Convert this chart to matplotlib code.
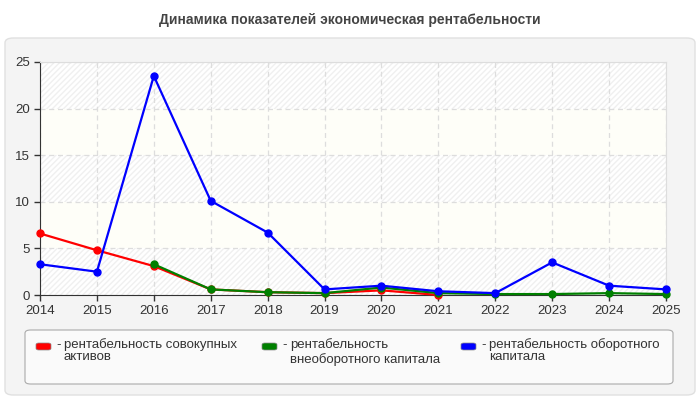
import matplotlib
matplotlib.use("Agg")
import matplotlib.pyplot as plt
from matplotlib.patches import FancyBboxPatch
import numpy as np

plt.rcParams['font.family'] = ['Liberation Sans', 'DejaVu Sans']

title = "Динамика показателей экономическая рентабельности"
years = [2014, 2015, 2016, 2017, 2018, 2019, 2020, 2021, 2022, 2023, 2024, 2025]
yticks = [0, 5, 10, 15, 20, 25]

red_years = [2014, 2015, 2016, 2017, 2018, 2019, 2020, 2021]
red_vals = [6.6, 4.8, 3.1, 0.6, 0.3, 0.2, 0.5, 0.0]

green_years = [2016, 2017, 2018, 2019, 2020, 2021, 2022, 2023, 2024, 2025]
green_vals = [3.3, 0.6, 0.3, 0.2, 0.8, 0.2, 0.1, 0.1, 0.2, 0.1]

blue_years = years
blue_vals = [3.3, 2.5, 23.5, 10.1, 6.7, 0.6, 1.0, 0.4, 0.2, 3.5, 1.0, 0.6]

labels = ["рентабельность совокупных\nактивов",
          "рентабельность\nвнеоборотного капитала",
          "рентабельность оборотного\nкапитала"]
line_spacing = [1.0, 1.25, 1.0]
colors = ["#ff0000", "#008000", "#0000ff"]

fig = plt.figure(figsize=(7, 4), dpi=100)
fig.patch.set_facecolor("#ffffff")

# outer panel
panel = FancyBboxPatch((5/700, 5/400), 690/700, 357/400,
                       boxstyle="round,pad=0,rounding_size=0.012",
                       transform=fig.transFigure, facecolor="#f4f4f4",
                       edgecolor="#e0e0e0", linewidth=1, zorder=-2)
fig.patches.append(panel)

fig.text(0.5, 1 - 20/400, title, ha="center", va="center",
         fontsize=10, fontweight="bold", color="#444444")

ax = fig.add_axes([40/700, 1 - 295/400, 626/700, 233/400])
ax.set_zorder(2)
ax.set_facecolor("#ffffff")
for i, (lo, hi) in enumerate(zip(yticks[:-1], yticks[1:])):
    if i % 2 == 0:
        ax.axhspan(lo, hi, facecolor="#ffffff", hatch="//////", edgecolor="#f0f0f0",
                   linewidth=0, zorder=0)
    else:
        ax.axhspan(lo, hi, facecolor="#fefef8", edgecolor="none", zorder=0)

ax.set_xlim(years[0], years[-1])
ax.set_ylim(yticks[0], yticks[-1])
ax.set_xticks(years)
ax.set_yticks(yticks)
ax.tick_params(labelsize=9.5, colors="#333333", length=4, width=1)
ax.grid(True, color="#dddddd", linestyle=(0, (4, 3)), linewidth=0.9)
ax.set_axisbelow(True)
for s in ["top", "right"]:
    ax.spines[s].set_color("#dddddd")
for s in ["left", "bottom"]:
    ax.spines[s].set_color("#333333")

ax.plot(red_years, red_vals, color=colors[0], lw=1.6, marker="o", ms=5, zorder=3, clip_on=False)
ax.plot(green_years, green_vals, color=colors[1], lw=1.6, marker="o", ms=5, zorder=4, clip_on=False)
ax.plot(blue_years, blue_vals, color=colors[2], lw=1.6, marker="o", ms=5, zorder=5, clip_on=False)

# legend box
leg = FancyBboxPatch((25/700, 1 - 384/400), 648/700, 54/400,
                     boxstyle="round,pad=0,rounding_size=0.008",
                     transform=fig.transFigure, facecolor="#fafafa",
                     edgecolor="#aaaaaa", linewidth=0.8, zorder=1)
fig.patches.append(leg)

xs = [36, 262, 461]
for x, lab, c, lsp in zip(xs, labels, colors, line_spacing):
    sw = FancyBboxPatch((x/700, 1 - 350/400), 15/700, 7/400,
                        boxstyle="round,pad=0,rounding_size=0.004",
                        transform=fig.transFigure, facecolor=c,
                        edgecolor="#888888", linewidth=0.5, zorder=2)
    fig.patches.append(sw)
    fig.text((x + 20)/700, 1 - 345/400, "-", ha="left", va="center",
             fontsize=9.5, color="#333333")
    fig.text((x + 28)/700, 1 - 338/400, lab, ha="left", va="top",
             fontsize=9.5, color="#333333", linespacing=lsp)

fig.savefig("out.png", dpi=100)
